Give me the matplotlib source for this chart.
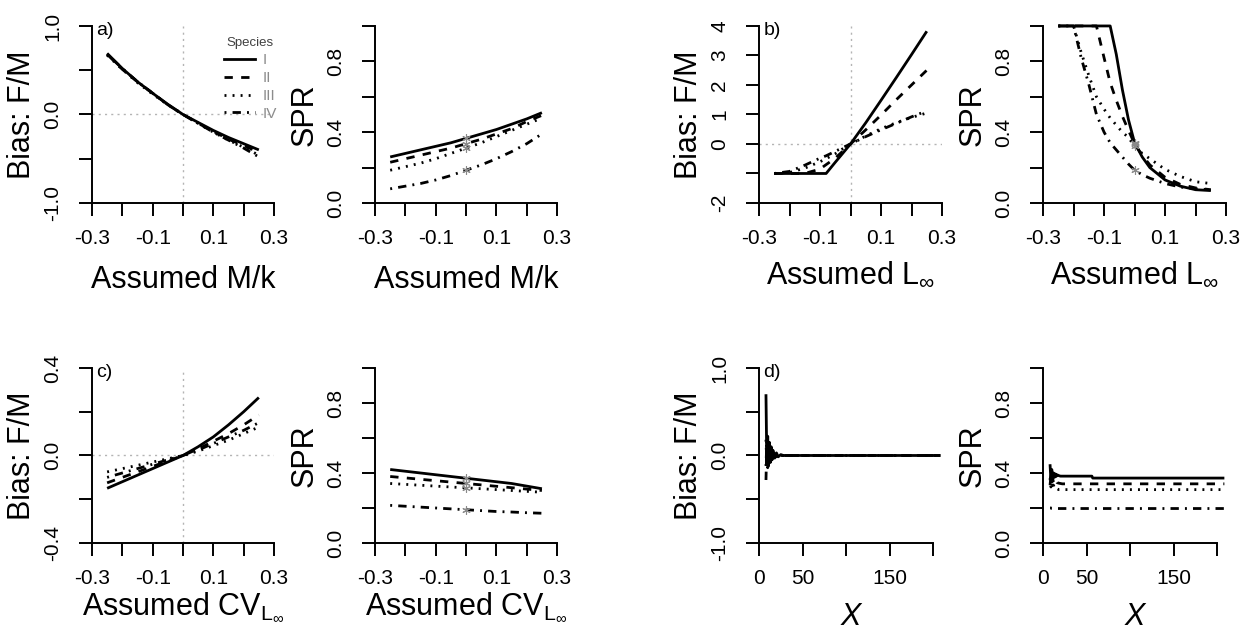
import numpy as np
import matplotlib
matplotlib.use("Agg")
import matplotlib.pyplot as plt

plt.rcParams["font.family"] = ["Liberation Sans", "DejaVu Sans"]
plt.rcParams["mathtext.fontset"] = "custom"
plt.rcParams["mathtext.rm"] = "Liberation Sans"
plt.rcParams["mathtext.it"] = "Liberation Sans:italic"

# ---------- data ----------
species = ["I", "II", "III", "IV"]

# a) assumed M/k
mk_x = [-0.25, -0.2, -0.15, -0.1, -0.05, 0.0, 0.05, 0.1, 0.15, 0.2, 0.25]
bias_mk = [
    [0.69, 0.52, 0.37, 0.24, 0.115, 0.0, -0.09, -0.18, -0.26, -0.33, -0.40],
    [0.68, 0.51, 0.37, 0.24, 0.11, 0.0, -0.10, -0.19, -0.28, -0.35, -0.43],
    [0.67, 0.51, 0.36, 0.23, 0.11, 0.0, -0.10, -0.20, -0.29, -0.37, -0.46],
    [0.68, 0.52, 0.37, 0.24, 0.11, 0.0, -0.10, -0.20, -0.29, -0.38, -0.48],
]
spr_mk = [
    [0.26, 0.28, 0.30, 0.32, 0.34, 0.365, 0.39, 0.415, 0.445, 0.475, 0.51],
    [0.23, 0.25, 0.27, 0.29, 0.31, 0.335, 0.36, 0.39, 0.42, 0.46, 0.495],
    [0.185, 0.205, 0.225, 0.25, 0.28, 0.31, 0.34, 0.375, 0.41, 0.445, 0.48],
    [0.08, 0.095, 0.11, 0.13, 0.155, 0.185, 0.215, 0.25, 0.29, 0.335, 0.39],
]

# b) assumed L_inf
linf_x = [-0.25, -0.2, -0.15, -0.1, -0.08, -0.05, -0.025, 0.0, 0.05, 0.1, 0.15, 0.2, 0.25]
bias_linf = [
    [-1.0, -1.0, -1.0, -1.0, -1.0, -0.62, -0.31, 0.0, 0.72, 1.48, 2.25, 3.03, 3.82],
    [-1.0, -1.0, -1.0, -0.85, -0.7, -0.48, -0.24, 0.0, 0.48, 0.98, 1.5, 2.0, 2.5],
    [-1.0, -0.97, -0.82, -0.6, -0.5, -0.33, -0.16, 0.0, 0.27, 0.52, 0.72, 0.9, 1.05],
    [-1.0, -0.93, -0.72, -0.48, -0.4, -0.25, -0.12, 0.0, 0.25, 0.48, 0.7, 0.92, 1.12],
]
linf_spr_x = [-0.25, -0.2, -0.175, -0.15, -0.125, -0.1, -0.08, -0.06, -0.04, -0.02,
              0.0, 0.025, 0.05, 0.1, 0.15, 0.2, 0.25]
spr_linf = [
    [1, 1, 1, 1, 1, 1, 1, 0.84, 0.64, 0.47, 0.34, 0.26, 0.2, 0.13, 0.095, 0.075, 0.07],
    [1, 1, 1, 1, 1, 0.82, 0.68, 0.58, 0.49, 0.41, 0.335, 0.27, 0.215, 0.145, 0.105, 0.085, 0.075],
    [1, 1, 0.85, 0.72, 0.6, 0.53, 0.48, 0.44, 0.40, 0.37, 0.32, 0.28, 0.25, 0.19, 0.15, 0.12, 0.11],
    [1, 1, 0.82, 0.67, 0.5, 0.4, 0.34, 0.3, 0.26, 0.22, 0.185, 0.16, 0.14, 0.11, 0.09, 0.08, 0.075],
]

# c) assumed CV_Linf
cv_x = [-0.25, -0.2, -0.15, -0.1, -0.05, 0.0, 0.05, 0.1, 0.15, 0.2, 0.25]
bias_cv = [
    [-0.15, -0.12, -0.09, -0.06, -0.03, 0.0, 0.04, 0.085, 0.14, 0.2, 0.265],
    [-0.125, -0.1, -0.075, -0.05, -0.025, 0.0, 0.03, 0.065, 0.1, 0.14, 0.185],
    [-0.075, -0.06, -0.045, -0.03, -0.015, 0.0, 0.02, 0.045, 0.07, 0.1, 0.13],
    [-0.1, -0.08, -0.06, -0.04, -0.02, 0.0, 0.025, 0.055, 0.085, 0.115, 0.15],
]
spr_cv = [
    [0.42, 0.41, 0.40, 0.39, 0.38, 0.37, 0.36, 0.35, 0.34, 0.325, 0.31],
    [0.38, 0.372, 0.364, 0.356, 0.348, 0.34, 0.332, 0.324, 0.316, 0.308, 0.30],
    [0.34, 0.335, 0.33, 0.325, 0.32, 0.315, 0.31, 0.305, 0.30, 0.295, 0.29],
    [0.215, 0.21, 0.205, 0.2, 0.195, 0.19, 0.185, 0.18, 0.177, 0.173, 0.17],
]

# d) X
n_x = [8, 9, 10, 11, 12, 13, 14, 15, 16, 18, 20, 22, 25, 28, 32, 40, 56, 57, 208]
bias_n = [
    [0.70, -0.10, 0.22, -0.12, 0.15, -0.08, 0.10, -0.05, 0.06, -0.03, 0.03, -0.015, 0.01,
     0.0, 0.0, 0.0, 0.0, 0.0, 0.0],
    [-0.28, 0.12, -0.14, 0.10, -0.08, 0.07, -0.05, 0.04, -0.03, 0.02, -0.015, 0.01, 0.0,
     0.0, 0.0, 0.0, 0.0, 0.0, 0.0],
    [0.18, -0.12, 0.10, -0.08, 0.06, -0.05, 0.04, -0.03, 0.02, -0.015, 0.01, 0.0, 0.0,
     0.0, 0.0, 0.0, 0.0, 0.0, 0.0],
    [-0.12, 0.15, -0.10, 0.08, -0.06, 0.05, -0.04, 0.03, -0.02, 0.01, 0.0, 0.0, 0.0,
     0.0, 0.0, 0.0, 0.0, 0.0, 0.0],
]
spr_n = [
    [0.45, 0.36, 0.42, 0.37, 0.40, 0.375, 0.395, 0.38, 0.39, 0.385, 0.382, 0.382, 0.382,
     0.382, 0.382, 0.382, 0.382, 0.371, 0.371],
    [0.33, 0.38, 0.34, 0.37, 0.345, 0.36, 0.35, 0.355, 0.345, 0.342, 0.34, 0.338, 0.338,
     0.338, 0.338, 0.338, 0.338, 0.338, 0.338],
    [0.37, 0.32, 0.35, 0.31, 0.33, 0.315, 0.32, 0.31, 0.31, 0.305, 0.305, 0.305, 0.305,
     0.305, 0.305, 0.305, 0.305, 0.305, 0.305],
    [0.20, 0.20, 0.198, 0.198, 0.198, 0.197, 0.197, 0.197, 0.197, 0.197, 0.197, 0.197,
     0.197, 0.197, 0.197, 0.197, 0.197, 0.197, 0.197],
]

# ---------- styling ----------
LW = 2.0
STYLES = ["-", (0, (3, 3)), (0, (0.7, 2.2)), (0, (0.7, 2.2, 3, 2.2))]
GRAY = "#b4b4b4"
TICK_FS = 15
LAB_FS = 22

fig = plt.figure(figsize=(12.41, 6.30), dpi=100)

lefts = [0.0741, 0.3022, 0.6116, 0.8405]
widths = [0.1467, 0.1467, 0.1475, 0.1475]
rows = [(0.6778, 0.2810), (0.1381, 0.2778)]


def make_ax(col, row):
    b, h = rows[row]
    return fig.add_axes([lefts[col], b, widths[col], h])


def r_style(ax, xlim, ylim, xticks, xlabels, yticks, ylabels):
    ax.set_xlim(xlim)
    ax.set_ylim(ylim)
    for s in ("top", "right"):
        ax.spines[s].set_visible(False)
    for s in ("left", "bottom"):
        ax.spines[s].set_linewidth(1.4)
    ax.spines["left"].set_bounds(yticks[0], yticks[-1])
    ax.spines["bottom"].set_bounds(xticks[0], xticks[-1])
    ax.set_xticks(xticks, xlabels)
    ax.set_yticks(yticks, ylabels)
    ax.tick_params(direction="out", length=9.4, width=1.4, labelsize=TICK_FS)
    ax.tick_params(axis="x", pad=9)
    ax.tick_params(axis="y", pad=12, labelrotation=90)
    for lbl in ax.get_yticklabels():
        lbl.set_va("center")


def draw(ax, x, ys):
    for y, ls in zip(ys, STYLES):
        ax.plot(x, y, color="black", lw=LW, linestyle=ls, clip_on=False,
                solid_capstyle="butt")


def true_marks(ax, x, ys):
    i = list(x).index(0.0)
    vals = [y[i] for y in ys]
    ax.plot([0.0] * len(vals), vals, linestyle="none", marker=(6, 2, 0),
            ms=6, mew=0.8, color="#8a8a8a", zorder=3)


def ref_lines(ax):
    ax.axvline(0, color=GRAY, lw=1, linestyle=(0, (1.5, 3)), zorder=0)
    ax.axhline(0, color=GRAY, lw=1, linestyle=(0, (1.5, 3)), zorder=0)


def labels(ax, xlab, ylab, xlab_y, style="normal"):
    ax.set_xlabel(xlab, fontsize=LAB_FS, fontstyle=style)
    ax.xaxis.label.set_va("baseline")
    ax.xaxis.set_label_coords(0.5, xlab_y)
    ax.set_ylabel(ylab, fontsize=LAB_FS)
    ax.yaxis.label.set_va("center")
    ax.yaxis.set_label_coords(-0.385, 0.5)


def panel_tag(ax, tag):
    ax.text(0.025, 1.025, tag, transform=ax.transAxes, ha="left", va="top", fontsize=14)


mk_ticks = [-0.3, -0.2, -0.1, 0.0, 0.1, 0.2, 0.3]
mk_lab = ["-0.3", "", "-0.1", "", "0.1", "", "0.3"]
spr_ticks = [0.0, 0.2, 0.4, 0.6, 0.8, 1.0]
spr_lab = ["0.0", "", "0.4", "", "0.8", ""]
b1_ticks = [-1.0, -0.5, 0.0, 0.5, 1.0]
b1_lab = ["-1.0", "", "0.0", "", "1.0"]

# a) left
ax = make_ax(0, 0)
ref_lines(ax)
draw(ax, mk_x, bias_mk)
r_style(ax, (-0.3, 0.3), (-1, 1), mk_ticks, mk_lab, b1_ticks, b1_lab)
labels(ax, "Assumed M/k", "Bias: F/M", -0.48)
panel_tag(ax, "a)")
handles = [plt.Line2D([], [], color="black", lw=LW, linestyle=ls) for ls in STYLES]
leg = ax.legend(handles, species, title="Species", loc="upper left",
                bbox_to_anchor=(0.725, 0.935), frameon=False, fontsize=11,
                title_fontsize=9.5, handlelength=2.0, handletextpad=0.5,
                labelspacing=0.25, borderpad=0, borderaxespad=0)
for t in leg.get_texts():
    t.set_color("#8c8c8c")
leg.get_title().set_color("#404040")

# a) right
ax = make_ax(1, 0)
draw(ax, mk_x, spr_mk)
true_marks(ax, mk_x, spr_mk)
r_style(ax, (-0.3, 0.3), (0, 1), mk_ticks, mk_lab, spr_ticks, spr_lab)
labels(ax, "Assumed M/k", "SPR", -0.48)

# b) left
ax = make_ax(2, 0)
ref_lines(ax)
draw(ax, linf_x, bias_linf)
r_style(ax, (-0.3, 0.3), (-2, 4), mk_ticks, mk_lab,
        [-2, -1, 0, 1, 2, 3, 4], ["-2", "", "0", "1", "2", "3", "4"])
labels(ax, r"Assumed L$_{\infty}$", "Bias: F/M", -0.45)
panel_tag(ax, "b)")

# b) right
ax = make_ax(3, 0)
draw(ax, linf_spr_x, spr_linf)
true_marks(ax, linf_spr_x, spr_linf)
r_style(ax, (-0.3, 0.3), (0, 1), mk_ticks, mk_lab, spr_ticks, spr_lab)
labels(ax, r"Assumed L$_{\infty}$", "SPR", -0.45)

# c) left
ax = make_ax(0, 1)
ref_lines(ax)
draw(ax, cv_x, bias_cv)
r_style(ax, (-0.3, 0.3), (-0.4, 0.4), mk_ticks, mk_lab,
        [-0.4, -0.2, 0.0, 0.2, 0.4], ["-0.4", "", "0.0", "", "0.4"])
labels(ax, r"Assumed CV$_{\mathregular{L}_{\infty}}$", "Bias: F/M", -0.41)
panel_tag(ax, "c)")

# c) right
ax = make_ax(1, 1)
draw(ax, cv_x, spr_cv)
true_marks(ax, cv_x, spr_cv)
r_style(ax, (-0.3, 0.3), (0, 1), mk_ticks, mk_lab, spr_ticks, spr_lab)
labels(ax, r"Assumed CV$_{\mathregular{L}_{\infty}}$", "SPR", -0.41)

n_ticks = [0, 50, 100, 150, 200]
n_lab = ["0", "50", "", "150", ""]

# d) left
ax = make_ax(2, 1)
draw(ax, n_x, bias_n)
r_style(ax, (0, 210), (-1, 1), n_ticks, n_lab, b1_ticks, b1_lab)
labels(ax, "X", "Bias: F/M", -0.47, style="italic")
panel_tag(ax, "d)")

# d) right
ax = make_ax(3, 1)
draw(ax, n_x, spr_n)
r_style(ax, (0, 210), (0, 1), n_ticks, n_lab, spr_ticks, spr_lab)
labels(ax, "X", "SPR", -0.47, style="italic")

fig.savefig("out.png", dpi=100)
